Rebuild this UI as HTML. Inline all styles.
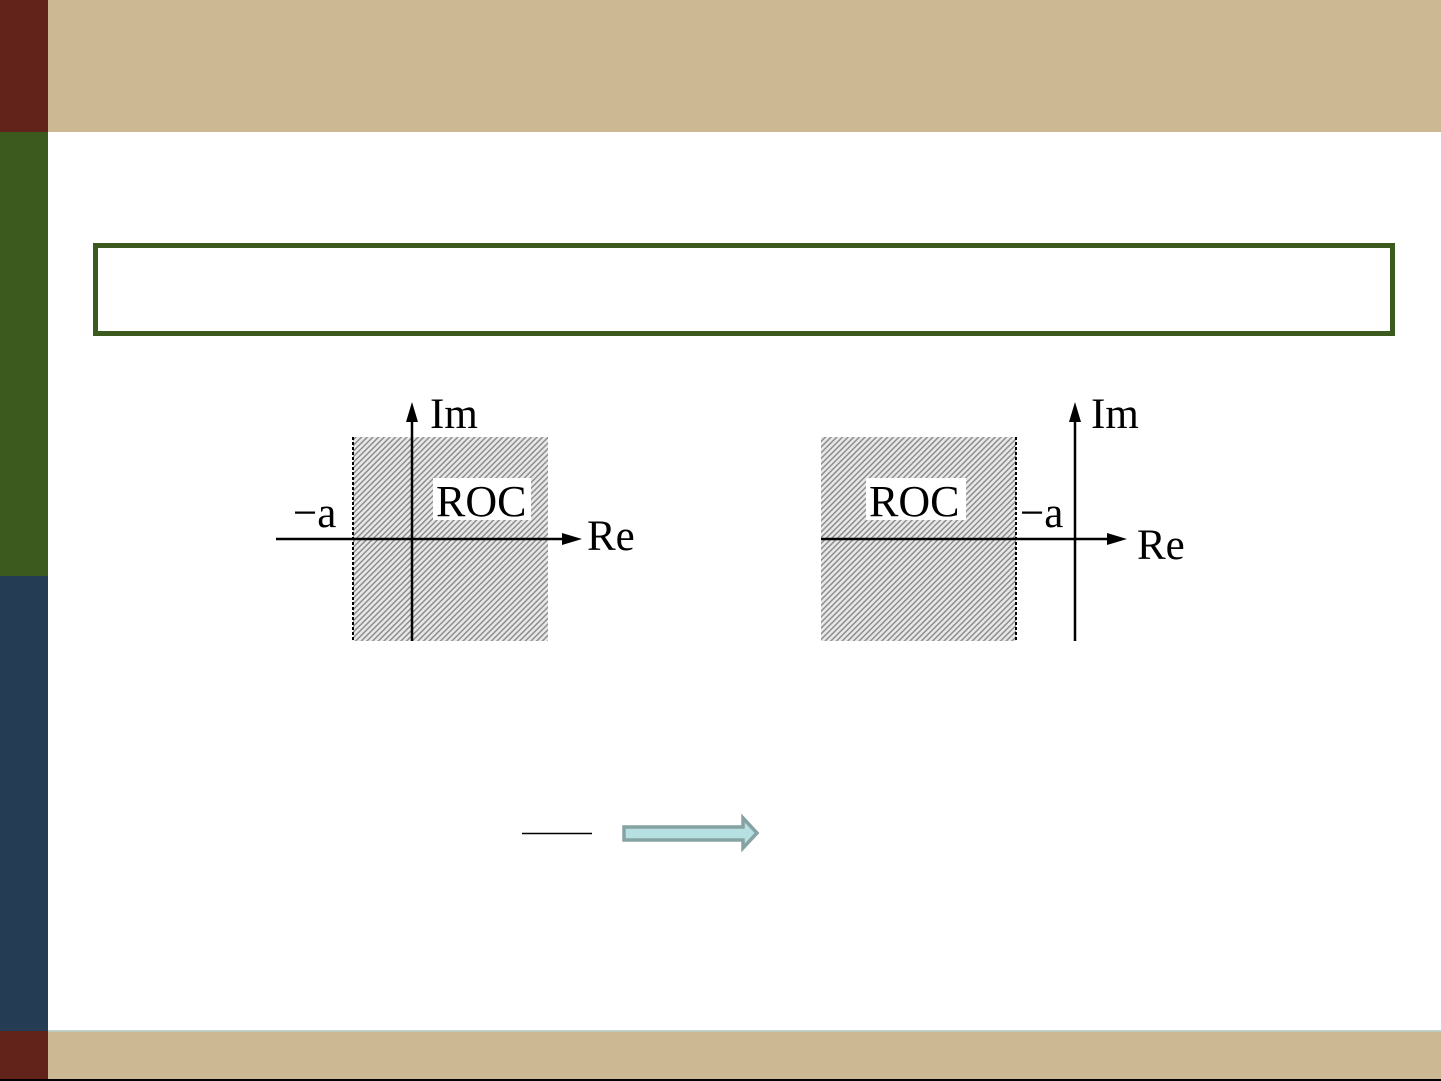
<!DOCTYPE html>
<html><head><style>
html,body{margin:0;padding:0;background:#fff;}
body{width:1441px;height:1081px;overflow:hidden;position:relative;}
</style></head><body>
<svg width="1441" height="1081" xmlns="http://www.w3.org/2000/svg" style="position:absolute;left:0;top:0">
<defs>
<pattern id="h" patternUnits="userSpaceOnUse" width="4" height="4" patternTransform="rotate(45)">
<rect width="4" height="4" fill="#e8e8e8"/>
<rect width="1.5" height="4" fill="#8e8e8e"/>
</pattern>
</defs>
<rect x="0" y="0" width="48" height="132" fill="#62241a"/>
<rect x="0" y="132" width="48" height="444" fill="#3d5a1e"/>
<rect x="0" y="576" width="48" height="455" fill="#253c55"/>
<rect x="0" y="1031" width="48" height="50" fill="#62241a"/>
<rect x="48" y="0" width="1393" height="132" fill="#cdb894"/>
<rect x="48" y="1031" width="1393" height="50" fill="#cdb894"/>
<rect x="48" y="1030" width="1393" height="1.5" fill="#b8d8d8"/>
<rect x="0" y="1079" width="1441" height="2" fill="#000"/>
<rect x="95.5" y="245.5" width="1297" height="88" fill="none" stroke="#3d5a1e" stroke-width="5"/>

<!-- left diagram -->
<rect x="353" y="437" width="195" height="204" fill="url(#h)"/>
<line x1="353" y1="437" x2="353" y2="641" stroke="#000" stroke-width="2" stroke-dasharray="3,2"/>
<rect x="433" y="478" width="98" height="42" fill="#fff"/>
<line x1="412" y1="641" x2="412" y2="418" stroke="#000" stroke-width="2.5"/>
<polygon points="412,402 406,422 418,422" fill="#000"/>
<line x1="276" y1="539" x2="566" y2="539" stroke="#000" stroke-width="2.5"/>
<polygon points="582,539 562,533 562,545" fill="#000"/>
<g font-family="Liberation Serif, serif" font-size="43" fill="#000">
<text x="430" y="428">Im</text>
<text x="436" y="516" font-size="44">ROC</text>
<text x="293" y="527">−a</text>
<text x="587" y="550">Re</text>
</g>

<!-- right diagram -->
<rect x="821" y="437" width="195" height="204" fill="url(#h)"/>
<line x1="1016" y1="437" x2="1016" y2="641" stroke="#000" stroke-width="2" stroke-dasharray="3,2"/>
<rect x="866" y="478" width="100" height="42" fill="#fff"/>
<line x1="1075" y1="641" x2="1075" y2="418" stroke="#000" stroke-width="2.5"/>
<polygon points="1075,402 1069,422 1081,422" fill="#000"/>
<line x1="821" y1="539" x2="1111" y2="539" stroke="#000" stroke-width="2.5"/>
<polygon points="1127,539 1107,533 1107,545" fill="#000"/>
<g font-family="Liberation Serif, serif" font-size="43" fill="#000">
<text x="1091" y="428">Im</text>
<text x="869" y="516" font-size="44">ROC</text>
<text x="1020" y="527">−a</text>
<text x="1137" y="559">Re</text>
</g>

<!-- bottom line + arrow -->
<line x1="522" y1="833.5" x2="592" y2="833.5" stroke="#000" stroke-width="1.5"/>
<polygon points="624,827 743,827 743,818 757,833 743,848 743,840 624,840" fill="#b7e0e2" stroke="#86a3a3" stroke-width="3.5" stroke-linejoin="miter"/>
</svg>
</body></html>
